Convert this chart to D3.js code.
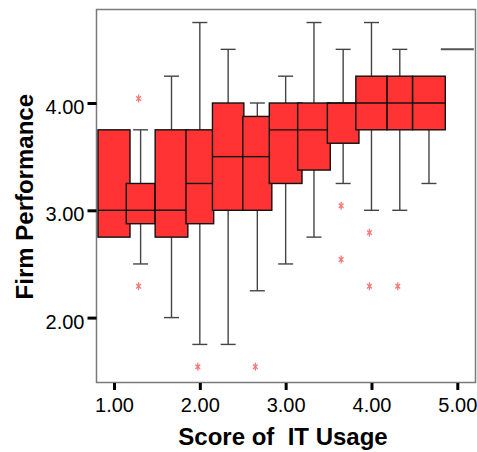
<!DOCTYPE html>
<html>
<head>
<meta charset="utf-8">
<script src="https://cdn.jsdelivr.net/npm/d3@7"></script>
<style>
  html, body { margin: 0; padding: 0; background: #fff; }
  svg { display: block; }
</style>
</head>
<body>
<div id="chart"></div>
<script>
// Firm performance by IT usage score: one box per observed score
const scores      = [1.00, 1.31, 1.67, 2.00, 2.33, 2.67, 3.00, 3.33, 3.67, 4.00, 4.33, 4.67, 5.00];
const lowWhisker  = [2.75, 2.50, 2.00, 1.75, 1.75, 2.25, 2.50, 2.75, 3.25, 3.00, 3.00, 3.25, 4.50];
const q1          = [2.75, 2.875, 2.75, 2.875, 3.00, 3.00, 3.25, 3.375, 3.625, 3.75, 3.75, 3.75, 4.50];
const medians     = [3.00, 3.00, 3.00, 3.25, 3.50, 3.50, 3.75, 3.75, 4.00, 4.00, 4.00, 4.00, 4.50];
const q3          = [3.75, 3.25, 3.75, 3.75, 4.00, 3.875, 4.00, 4.00, 4.00, 4.25, 4.25, 4.25, 4.50];
const highWhisker = [3.75, 3.75, 4.25, 4.75, 4.50, 4.00, 4.25, 4.75, 4.50, 4.75, 4.50, 4.25, 4.50];

// extreme values plotted individually
const extremeScores = [1.31, 1.31, 2.00, 2.67, 3.67, 3.67, 4.00, 4.00, 4.33];
const extremeValues = [4.00, 2.25, 1.50, 1.50, 3.00, 2.50, 2.75, 2.25, 2.25];

const xTicks = [1, 2, 3, 4, 5];
const yTicks = [2, 3, 4];

// layout
const W = 477, H = 452;
const frame = { left: 96.5, right: 475.5, top: 9.5, bottom: 382.5 };
const boxWidthPx = [32, 28.7, 32.7, 27.7, 31.4, 29, 32.7, 32.6, 31.6, 31.3, 25.4, 32.6, 33];
const capWidth = 15;
const fillColor = "#ff3333";

const svg = d3.select("#chart").append("svg")
  .attr("width", W).attr("height", H);

const x = d3.scaleLinear().domain([1, 5]).range([114, 457.3]);
const y = d3.scaleLinear().domain([2, 4]).range([317.6, 103]);

// plot frame
svg.append("rect")
  .attr("x", frame.left).attr("y", frame.top)
  .attr("width", frame.right - frame.left)
  .attr("height", frame.bottom - frame.top)
  .attr("fill", "none")
  .attr("stroke", "#7a7a7a")
  .attr("stroke-width", 1.5);

// axes
const fmt = d3.format(".2f");
const xAxis = svg.append("g")
  .attr("transform", `translate(0,${frame.bottom + 0.5})`)
  .call(d3.axisBottom(x).tickValues(xTicks).tickFormat(fmt)
    .tickSize(7).tickSizeOuter(0).tickPadding(7.5));
const yAxis = svg.append("g")
  .attr("transform", `translate(${frame.left},0)`)
  .call(d3.axisLeft(y).tickValues(yTicks).tickFormat(fmt)
    .tickSize(9).tickSizeOuter(0).tickPadding(3));

[xAxis, yAxis].forEach(g => {
  g.select(".domain").remove();
  g.selectAll(".tick line").attr("stroke", "#000").attr("stroke-width", 3);
  g.selectAll(".tick text")
    .attr("fill", "#000")
    .style("font-family", "'Liberation Sans', Arial, sans-serif")
    .style("font-size", "20px");
});
yAxis.selectAll(".tick text").attr("dy", "0.52em");

// axis titles
svg.append("text")
  .attr("x", 283).attr("y", 445)
  .attr("text-anchor", "middle")
  .style("font-family", "'Liberation Sans', Arial, sans-serif")
  .style("font-size", "24px").style("font-weight", "bold")
  .attr("fill", "#000")
  .attr("xml:space", "preserve")
  .text("Score of  IT Usage");

svg.append("text")
  .attr("transform", "translate(33,196.7) rotate(-90)")
  .attr("text-anchor", "middle")
  .style("font-family", "'Liberation Sans', Arial, sans-serif")
  .style("font-size", "24px").style("font-weight", "bold")
  .attr("fill", "#000")
  .text("Firm Performance");

// boxes
const boxes = scores.map((s, i) => ({
  s, lo: lowWhisker[i], q1: q1[i], med: medians[i], q3: q3[i], hi: highWhisker[i], w: boxWidthPx[i]
}));

const plot = svg.append("g");
boxes.forEach(b => {
  const cx = x(b.s);
  const g = plot.append("g");
  const whisker = { stroke: "#444", "stroke-width": 1.4 };

  // all values equal: a single line
  if (b.lo === b.hi) {
    g.append("line")
      .attr("x1", cx - b.w / 2).attr("x2", cx + b.w / 2)
      .attr("y1", y(b.med)).attr("y2", y(b.med))
      .attr("stroke", "#555").attr("stroke-width", 2);
    return;
  }

  const seg = (x1, y1, x2, y2) => {
    const l = g.append("line").attr("x1", x1).attr("y1", y1).attr("x2", x2).attr("y2", y2);
    Object.entries(whisker).forEach(([k, v]) => l.attr(k, v));
  };
  if (b.hi > b.q3) {
    seg(cx, y(b.q3), cx, y(b.hi));
    seg(cx - capWidth / 2, y(b.hi), cx + capWidth / 2, y(b.hi));
  }
  if (b.lo < b.q1) {
    seg(cx, y(b.q1), cx, y(b.lo));
    seg(cx - capWidth / 2, y(b.lo), cx + capWidth / 2, y(b.lo));
  }

  g.append("rect")
    .attr("x", cx - b.w / 2).attr("y", y(b.q3))
    .attr("width", b.w).attr("height", y(b.q1) - y(b.q3))
    .attr("fill", fillColor)
    .attr("stroke", "#111").attr("stroke-width", 1.4);
  g.append("line")
    .attr("x1", cx - b.w / 2).attr("x2", cx + b.w / 2)
    .attr("y1", y(b.med)).attr("y2", y(b.med))
    .attr("stroke", "#111").attr("stroke-width", 1.4);
});

// extreme markers: small asterisk glyph
const star = "M0,-4L0,4M-2.4,-2.2L2.4,2.2M-2.4,2.2L2.4,-2.2";
plot.selectAll("path.extreme")
  .data(extremeScores.map((s, i) => ({ s, v: extremeValues[i] })))
  .join("path")
  .attr("class", "extreme")
  .attr("d", star)
  .attr("transform", d => `translate(${x(d.s) - 2},${y(d.v) - 4.5})`)
  .attr("fill", "none")
  .attr("stroke", "#f47a7a")
  .attr("stroke-width", 1.3);
</script>
</body>
</html>
